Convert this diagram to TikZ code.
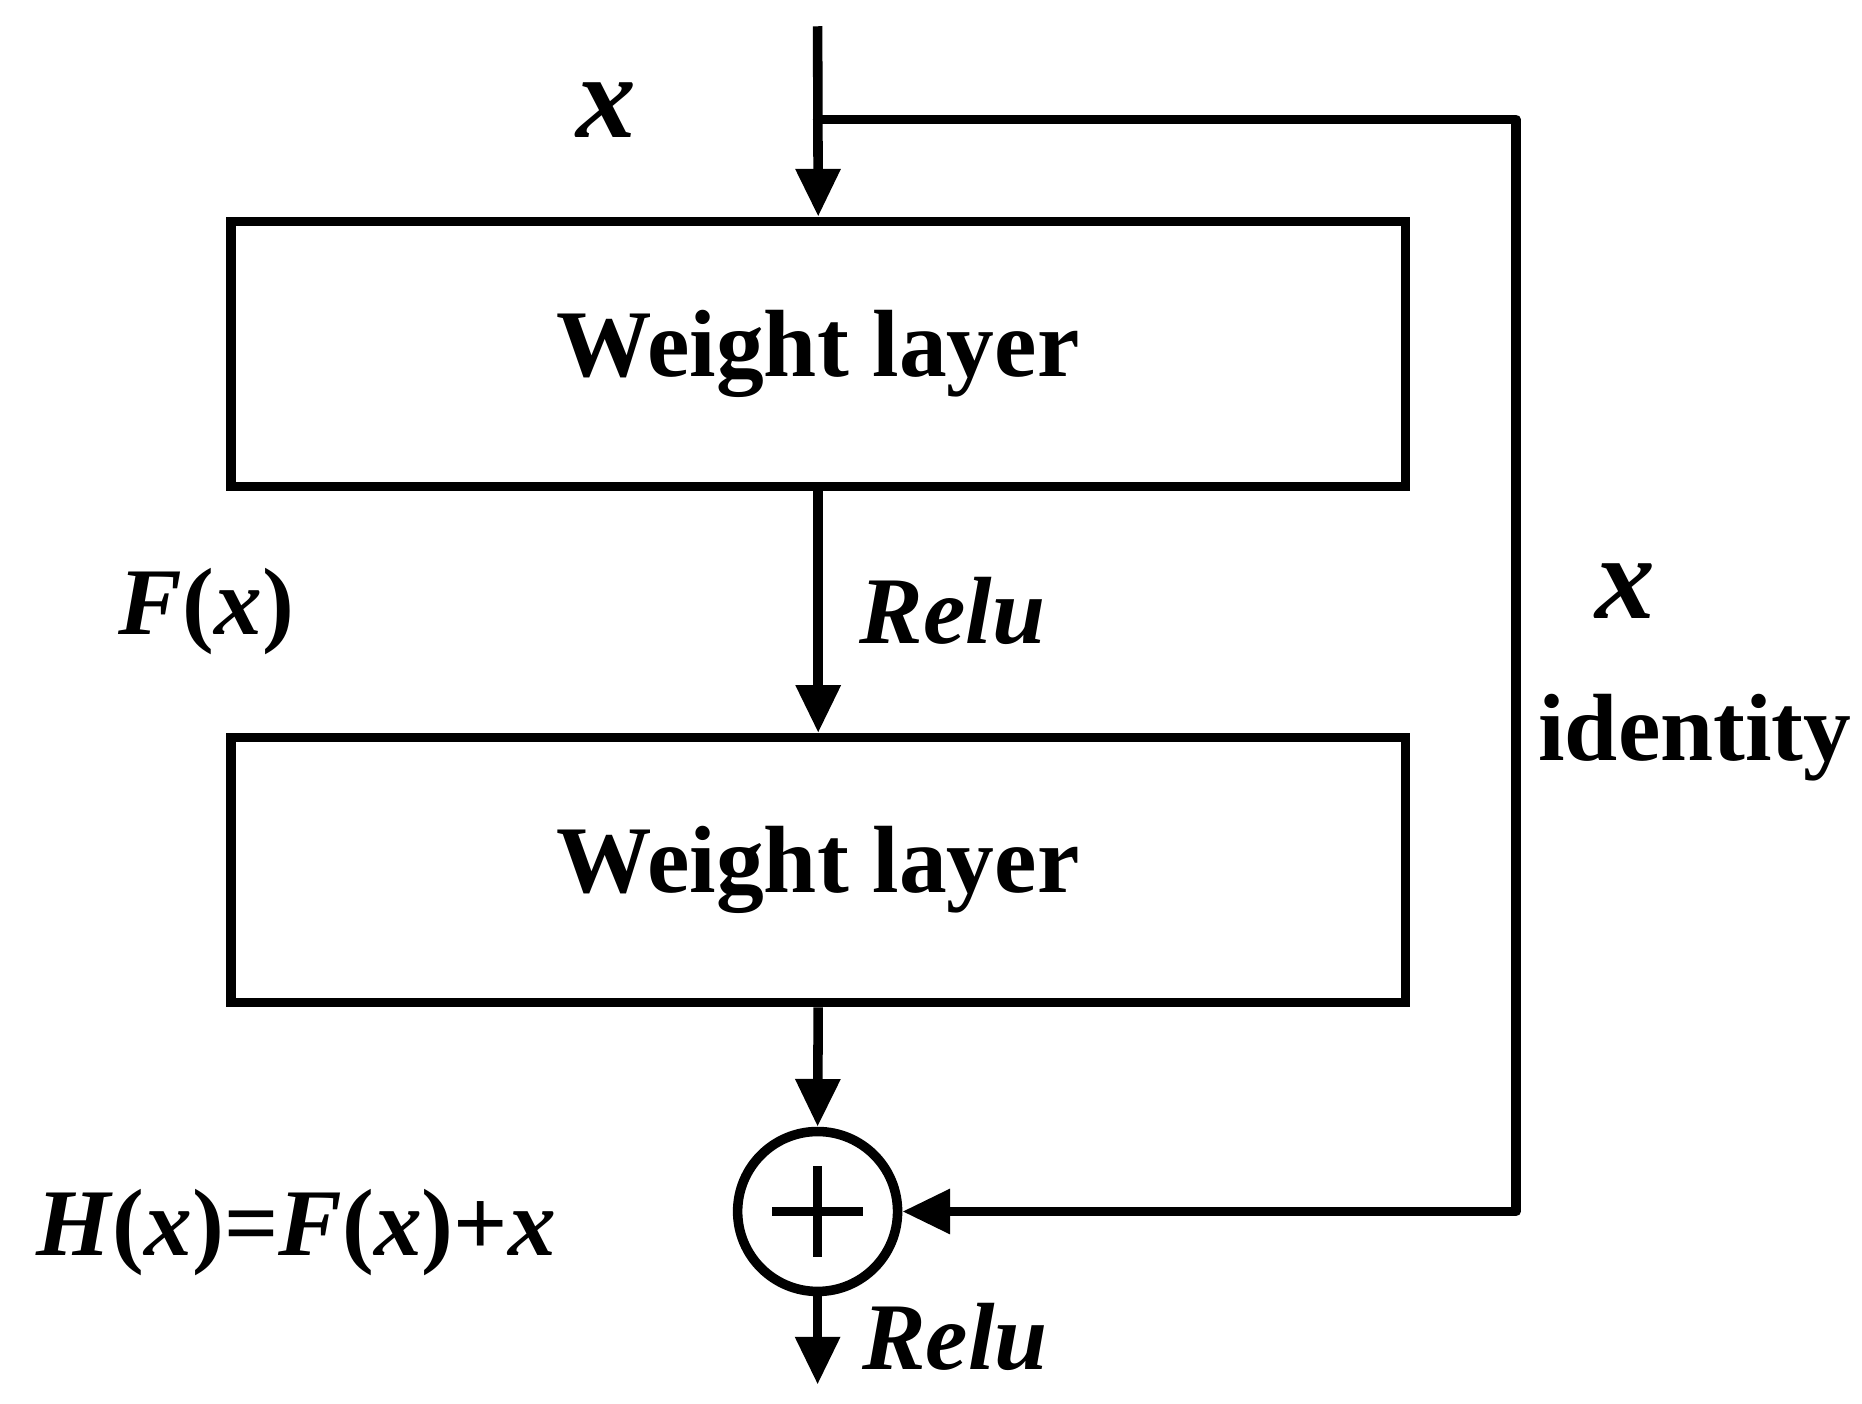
\documentclass[tikz,border=0pt]{standalone}
\usepackage{fontspec}
\setmainfont{Liberation Serif}
\usetikzlibrary{arrows.meta}
\newcommand{\up}[1]{\textup{#1}}
\begin{document}
\begin{tikzpicture}[x=0.5pt,y=-0.5pt,
  line width=4pt,
  arr/.style={-{Triangle[length=20pt,width=18pt]}},
  box/.style={draw,minimum width=492pt,minimum height=111pt,inner sep=0pt,font=\fontsize{40}{44}\selectfont\bfseries},
  lab/.style={font=\fontsize{40}{44}\selectfont\bfseries\itshape},
  labu/.style={font=\fontsize{40}{44}\selectfont\bfseries}]
\useasboundingbox (0,0) rectangle (1560,1176);
\coordinate (top) at (685,22);
\coordinate (split) at (685,100);
\coordinate (tr) at (1270,100);
\coordinate (br) at (1270,1015);
\coordinate (out) at (685,1160);
\node[box] (b1) at (685.5,296.5) {Weight layer};
\node[box] (b2) at (685.5,729) {Weight layer};
\node[draw,circle,minimum size=67pt,inner sep=0pt] (sum) at (685,1015) {};
\draw (sum.center) ++(0,-38) -- ++(0,76) (sum.center) ++(-38,0) -- ++(76,0);
\draw[arr] (top) -- (b1.north);
\draw[line cap=round,line join=round,arr] (split) -- (tr) -- (br) -- (sum.east);
\draw[arr] (b1.south) -- (b2.north);
\draw[arr] (b2.south) -- (sum.north);
\draw[arr] (sum.south) -- (out);
\node[lab,font=\fontsize{50}{54}\selectfont\bfseries\itshape] (x1) at (508,92) {x};
\node[lab] (fx) at (173,512) {F\up{(}x\up{)}};
\node[lab] (r1) at (798,512) {Relu};
\node[lab,font=\fontsize{50}{54}\selectfont\bfseries\itshape] (x2) at (1362,495) {x};
\node[labu] (id) at (1420,618) {identity};
\node[lab] (h) at (248,1033) {H\up{(}x\up{)=}F\up{(}x\up{)+}x};
\node[lab] (r2) at (800,1120) {Relu};
\end{tikzpicture}
\end{document}
